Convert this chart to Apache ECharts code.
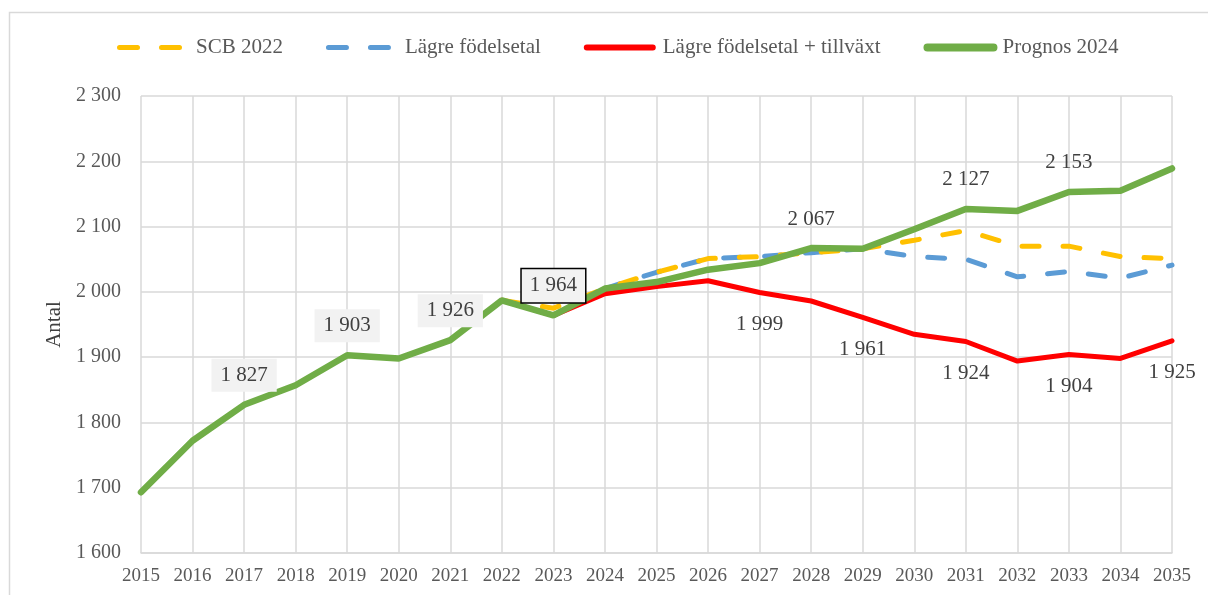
<!DOCTYPE html>
<html>
<head>
<meta charset="utf-8">
<script src="https://cdn.jsdelivr.net/npm/echarts@6/dist/echarts.min.js"></script>
<style>
html,body{margin:0;padding:0;background:#fff;}
#chart{width:1208px;height:595px;}
</style>
</head>
<body>
<div id="chart"></div>
<script>
// ---- data ----
var years = ['2015','2016','2017','2018','2019','2020','2021','2022','2023','2024','2025','2026','2027','2028','2029','2030','2031','2032','2033','2034','2035'];
var scb2022 = [null,null,null,null,null,null,null,1987,1975,2005,2030,2051,2054,2060,2066,2079,2094,2070,2070,2054,2051];
var lagreFodelsetal = [null,null,null,null,null,null,null,null,null,2005,2030,2051,2054,2060,2066,2054,2050,2023,2031,2021,2041];
var lagreTillvaxt = [null,null,null,null,null,null,null,1987,1964,1997,2008,2017,1999,1986,1961,1935,1924,1894,1904,1898,1925];
var prognos2024 = [1693,1772,1827,1857,1903,1898,1926,1987,1964,2005,2015,2034,2044,2067,2066,2096,2127,2124,2153,2155,2189];
var seriesNames = ['SCB 2022','Lägre födelsetal','Lägre födelsetal + tillväxt','Prognos 2024'];
var yTicks = {min:1600, max:2300, interval:100};
// labelled points
var greenBoxedYears = ['2017','2019','2021'];
var greenFramedYears = ['2023'];
var greenPlainYears = ['2028','2031','2033'];
var redLabelYears = ['2027','2029','2031','2033','2035'];

var FONT = "'Liberation Serif','Times New Roman',serif";
function fmt(v){ return String(v).replace(/\B(?=(\d{3})+(?!\d))/g,' '); }

var baseLabel = {show:true, fontFamily:FONT, fontSize:21, color:'#404040', formatter:function(p){return fmt(p.value);}};

function buildGreen(){
  return prognos2024.map(function(v,i){
    var y = years[i];
    var lab = null;
    if (greenBoxedYears.indexOf(y) >= 0) {
      lab = Object.assign({}, baseLabel, {position:'top', distance:13, backgroundColor:'#f2f2f2', padding:[6,9,6,9]});
    } else if (greenFramedYears.indexOf(y) >= 0) {
      lab = Object.assign({}, baseLabel, {position:'top', distance:13, backgroundColor:'#f2f2f2', borderColor:'#000', borderWidth:1.5, padding:[6,8,6,8]});
    } else if (greenPlainYears.indexOf(y) >= 0) {
      lab = Object.assign({}, baseLabel, {position:'top', distance:18.5});
    }
    if (!lab) return v;
    return {value:v, label:lab};
  });
}
function buildRed(){
  return lagreTillvaxt.map(function(v,i){
    if (redLabelYears.indexOf(years[i]) >= 0) {
      return {value:v, label:Object.assign({}, baseLabel, {position:'bottom', distance:21.5})};
    }
    return v;
  });
}

// legend icons drawn in a 74 x 9 box (tiny anchors at the corners fix the scale)
var anchors = ' M0,0 h0.01 v0.01 h-0.01 Z M73.99,8.99 h0.01 v0.01 h-0.01 Z';
var dashIcon = 'path://M2.5,2 H20.5 A2.5,2.5 0 0 1 20.5,7 H2.5 A2.5,2.5 0 0 1 2.5,2 Z M44.5,2 H62.5 A2.5,2.5 0 0 1 62.5,7 H44.5 A2.5,2.5 0 0 1 44.5,2 Z' + anchors;
var redIcon = 'path://M3,1.5 H69 A3,3 0 0 1 69,7.5 H3 A3,3 0 0 1 3,1.5 Z' + anchors;
var greenIcon = 'path://M4,0.5 H70 A4,4 0 0 1 70,8.5 H4 A4,4 0 0 1 4,0.5 Z' + anchors;

var chart = echarts.init(document.getElementById('chart'), null, {renderer:'canvas'});
var option = {
  animation:false,
  backgroundColor:'#fff',
  graphic:[{type:'rect', shape:{x:9.5, y:12.5, width:1230, height:620}, style:{fill:'none', stroke:'#d9d9d9', lineWidth:1.5}, silent:true, z:-1}],
  legend:{
    left:112, top:32,
    itemWidth:74, itemHeight:9, itemGap:43,
    textStyle:{fontFamily:FONT, fontSize:21, color:'#595959'},
    data:[
      {name:seriesNames[0], icon:dashIcon},
      {name:seriesNames[1], icon:dashIcon},
      {name:seriesNames[2], icon:redIcon},
      {name:seriesNames[3], icon:greenIcon}
    ]
  },
  grid:{left:141, right:36, top:96, bottom:42, containLabel:false},
  xAxis:{
    type:'category', data:years, boundaryGap:false,
    axisLine:{show:true, lineStyle:{color:'#d9d9d9', width:1.5}},
    axisTick:{show:false},
    axisLabel:{fontFamily:FONT, fontSize:19, color:'#595959', margin:14, interval:0},
    splitLine:{show:true, lineStyle:{color:'#d9d9d9', width:1.5}}
  },
  yAxis:{
    type:'value', min:yTicks.min, max:yTicks.max, interval:yTicks.interval,
    name:'Antal', nameLocation:'middle', nameGap:76, nameRotate:90,
    nameTextStyle:{fontFamily:FONT, fontSize:21, color:'#404040'},
    axisLine:{show:false}, axisTick:{show:false},
    axisLabel:{fontFamily:FONT, fontSize:20, color:'#595959', margin:20, padding:[4,0,0,0], formatter:fmt},
    splitLine:{show:true, lineStyle:{color:'#d9d9d9', width:1.5}}
  },
  series:[
    {name:seriesNames[0], type:'line', data:scb2022, symbol:'none', z:3,
     lineStyle:{color:'#FFC000', width:5, type:[17,24], cap:'round'}, itemStyle:{color:'#FFC000'}},
    {name:seriesNames[1], type:'line', data:lagreFodelsetal, symbol:'none', z:2,
     lineStyle:{color:'#5B9BD5', width:5, type:[17,24], cap:'round'}, itemStyle:{color:'#5B9BD5'}},
    {name:seriesNames[2], type:'line', data:buildRed(), symbol:'circle', symbolSize:0.01, showSymbol:true, showAllSymbol:true, z:4,
     lineStyle:{color:'#FF0000', width:5, cap:'round'}, itemStyle:{color:'#FF0000'}},
    {name:seriesNames[3], type:'line', data:buildGreen(), symbol:'circle', symbolSize:0.01, showSymbol:true, showAllSymbol:true, z:5,
     lineStyle:{color:'#70AD47', width:6.5, cap:'round'}, itemStyle:{color:'#70AD47'}}
  ]
};
chart.setOption(option);
</script>
</body>
</html>
